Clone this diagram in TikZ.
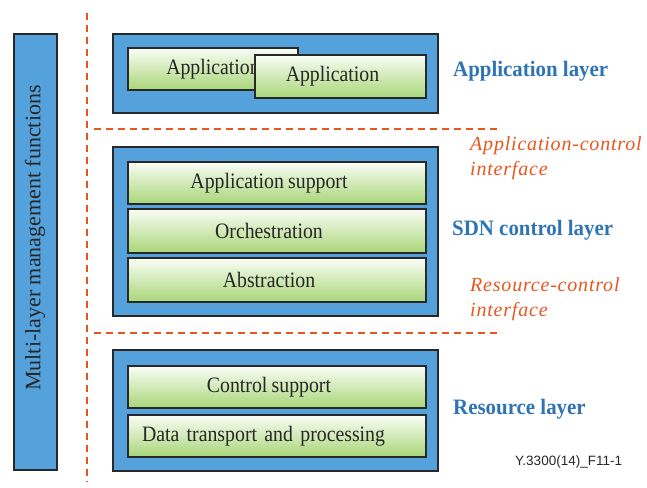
\documentclass[tikz,border=0pt]{standalone}
\usepackage{fontspec}
\setmainfont{Liberation Serif}
\newfontfamily\boxfont[FakeStretch=0.9,WordSpace=0.85]{Liberation Serif}
\newfontfamily\mlmfont{Liberation Serif}
\newfontfamily\labfont[FakeStretch=0.95]{Liberation Serif}
\newfontfamily\itfont[LetterSpace=4]{Liberation Serif}
\newfontfamily\refsans{Liberation Sans}
\definecolor{layerblue}{RGB}{84,161,220}
\definecolor{edgegray}{RGB}{40,40,40}
\definecolor{labblue}{RGB}{46,116,181}
\definecolor{ifaceorange}{RGB}{232,86,30}
\definecolor{greenbot}{RGB}{168,214,120}
\definecolor{greentop}{RGB}{250,253,246}
\tikzset{
  layerbox/.style={draw=edgegray, line width=2.6pt, fill=layerblue, inner sep=0pt},
  funcbox/.style={draw=edgegray, line width=2.6pt, top color=greentop, bottom color=greenbot, inner sep=0pt,
    font=\boxfont\fontsize{22}{24}\selectfont, text=black!85},
  shifttext/.style={execute at begin node=\hspace*{-16pt}},
  laylabel/.style={font=\labfont\bfseries\fontsize{22}{24}\selectfont, text=labblue, inner sep=0pt},
  iflabel/.style={font=\itfont\itshape\fontsize{20}{25}\selectfont, text=ifaceorange, inner sep=0pt, anchor=west, align=left},
  sepline/.style={draw=ifaceorange, line width=1.1pt, dash pattern=on 7pt off 5pt}
}
\begin{document}
\begin{tikzpicture}[x=1pt, y=-1pt]
\useasboundingbox (0,0) rectangle (647,487);
% separators
\coordinate (vtop) at (87,13);
\coordinate (vbot) at (87,482);
\draw[sepline] (vtop) -- (vbot);
\coordinate (h1a) at (94,129);
\coordinate (h1b) at (502,129);
\draw[sepline] (h1a) -- (h1b);
\coordinate (h2a) at (94,333);
\coordinate (h2b) at (502,333);
\draw[sepline] (h2a) -- (h2b);
% multi-layer management
\node[layerbox, minimum width=43pt, minimum height=436pt] (mlm) at (35.5,252) {};
\node[rotate=90, font=\mlmfont\fontsize{22}{24}\selectfont, text=black!85, inner sep=0pt] (mlmtext) at (35,238) {Multi-layer management functions};
% application layer
\node[layerbox, minimum width=325pt, minimum height=79pt] (applayer) at (275.5,73.5) {};
\node[funcbox, minimum width=170pt, minimum height=42pt] (app1) at (213,69) {Application};
\node[funcbox, shifttext, minimum width=171pt, minimum height=43pt] (app2) at (340.5,76.5) {Application};
% SDN control layer
\node[layerbox, minimum width=325pt, minimum height=169pt] (sdn) at (275.5,231.5) {};
\node[funcbox, shifttext, minimum width=298pt, minimum height=42pt] (appsup) at (277,183) {Application support};
\node[funcbox, shifttext, minimum width=298pt, minimum height=44pt] (orch) at (277,231) {Orchestration};
\node[funcbox, shifttext, minimum width=298pt, minimum height=44pt] (abst) at (277,280) {Abstraction};
% resource layer
\node[layerbox, minimum width=325pt, minimum height=121pt] (res) at (275.5,410.5) {};
\node[funcbox, shifttext, minimum width=298pt, minimum height=42pt] (ctrl) at (277,387) {Control support};
\node[funcbox, minimum width=298pt, minimum height=42pt, text width=270pt, align=left] (data) at (277,436) {Data transport and processing};
% labels
\node[laylabel, anchor=west] (lapp) at (453,71) {Application layer};
\node[laylabel, anchor=west] (lsdn) at (452,230) {SDN control layer};
\node[laylabel, anchor=west] (lres) at (453,409) {Resource layer};
\node[iflabel] (iac) at (470,158) {Application-control\\interface};
\node[iflabel] (irc) at (470,299) {Resource-control\\interface};
\node[font=\refsans\fontsize{13.5}{15}\selectfont, text=black!85, inner sep=0pt, anchor=west] (ref) at (515,462) {Y.3300(14)\_F11-1};
\end{tikzpicture}
\end{document}
